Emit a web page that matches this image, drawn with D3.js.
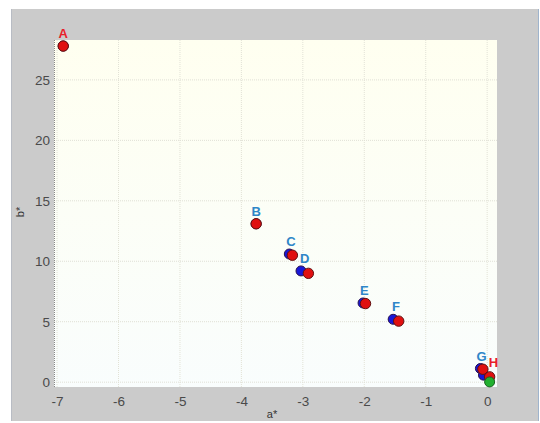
<!DOCTYPE html>
<html><head><meta charset="utf-8">
<script src="https://cdn.jsdelivr.net/npm/d3@7"></script>
<style>body{margin:0;background:#fff}svg{display:block}</style>
</head><body><svg id="c" width="540" height="423"></svg>
<script>
const labels = ["A","B","C","D","E","F","G","H"];
const labelColors = ["#e8202a","#2e86c8","#2e86c8","#2e86c8","#2e86c8","#2e86c8","#2e86c8","#e8202a"];
const blueA = [-6.9,-3.76,-3.22,-3.03,-2.02,-1.53,-0.11,-0.06];
const blueB = [27.8,13.1,10.6,9.2,6.55,5.2,1.13,0.58];
const redA  = [-6.9,-3.76,-3.17,-2.91,-1.98,-1.44,-0.07,0.04];
const redB  = [27.8,13.1,10.5,9.0,6.5,5.05,1.07,0.44];
const greenA = [0.04];
const greenB = [0.02];
const xTicks = [-7,-6,-5,-4,-3,-2,-1,0];
const yTicks = [0,5,10,15,20,25];

const svg = d3.select("#c");
const L=54,R=497,T=40,B=387;
const x = d3.scaleLinear().domain([-7.05,0.16]).range([L,R]);
const y = d3.scaleLinear().domain([-0.4,28.3]).range([B,T]);
const FONT = "Liberation Sans, Arial, sans-serif";

const defs = svg.append("defs");
const g = defs.append("linearGradient").attr("id","bg").attr("x1",0).attr("y1",0).attr("x2",0).attr("y2",1);
g.append("stop").attr("offset","0%").attr("stop-color","#fffff0");
g.append("stop").attr("offset","100%").attr("stop-color","#f9fdfd");

// grey panel
svg.append("rect").attr("x",11).attr("y",9).attr("width",528).attr("height",412).attr("fill","#cbcbcb");
svg.append("line").attr("x1",11.5).attr("x2",11.5).attr("y1",9).attr("y2",421).attr("stroke","#b8bcc4");
svg.append("line").attr("x1",538.5).attr("x2",538.5).attr("y1",9).attr("y2",421).attr("stroke","#9fb4cc");
svg.append("rect").attr("x",L).attr("y",T).attr("width",R-L).attr("height",B-T).attr("fill","url(#bg)");

// grid
svg.append("g").selectAll("line").data(xTicks).join("line")
  .attr("x1",d=>x(d)).attr("x2",d=>x(d)).attr("y1",T).attr("y2",B)
  .attr("stroke","#e2e2d6").attr("stroke-dasharray","1,1");
svg.append("g").selectAll("line").data(yTicks).join("line")
  .attr("x1",L).attr("x2",R).attr("y1",d=>y(d)).attr("y2",d=>y(d))
  .attr("stroke","#e0e0d6").attr("stroke-dasharray","1,1");
svg.append("line").attr("x1",L+0.5).attr("x2",L+0.5).attr("y1",T).attr("y2",B)
  .attr("stroke","#888").attr("stroke-dasharray","1,1");

// axes
const xa = svg.append("g").attr("transform",`translate(0,${B})`)
  .call(d3.axisBottom(x).tickValues(xTicks).tickSize(0).tickPadding(9).tickFormat(d=>String(d)));
const ya = svg.append("g").attr("transform",`translate(${L},0)`)
  .call(d3.axisLeft(y).tickValues(yTicks).tickSize(0).tickPadding(4).tickFormat(d=>String(d)));
[xa,ya].forEach(a=>{a.select(".domain").remove();
  a.selectAll("text").attr("font-family",FONT).attr("font-size",13.5).attr("fill","#4a4a4a");});

svg.append("text").attr("x",272).attr("y",418).attr("text-anchor","middle")
  .attr("font-family",FONT).attr("font-size",11).attr("fill","#333").text("a*");
svg.append("text").attr("transform","translate(24,212) rotate(-90)").attr("text-anchor","middle")
  .attr("font-family",FONT).attr("font-size",11).attr("fill","#333").text("b*");

// points
const pts = svg.append("g");
pts.selectAll(".b").data(blueA).join("circle").attr("class","b")
  .attr("cx",(d)=>x(d)).attr("cy",(d,i)=>y(blueB[i])).attr("r",5)
  .attr("fill","#1818d8").attr("stroke","#2a1050").attr("stroke-width",1);
pts.selectAll(".r").data(redA).join("circle").attr("class","r")
  .attr("cx",(d)=>x(d)).attr("cy",(d,i)=>y(redB[i])).attr("r",5.2)
  .attr("fill","#e01010").attr("stroke","#601010").attr("stroke-width",1);
pts.selectAll(".g").data(greenA).join("circle").attr("class","g")
  .attr("cx",(d)=>x(d)).attr("cy",(d,i)=>y(greenB[i])).attr("r",5)
  .attr("fill","#22b030").attr("stroke","#1a6020").attr("stroke-width",1);

// labels
svg.append("g").selectAll("text").data(labels).join("text")
  .attr("x",(d,i)=>(x(blueA[i])+x(redA[i]))/2 + (d==="H"?7:0))
  .attr("y",(d,i)=>y(Math.max(blueB[i],redB[i])) - 8)
  .attr("text-anchor","middle").attr("font-family",FONT)
  .attr("font-weight","bold").attr("font-size",13).attr("fill",(d,i)=>labelColors[i]).text(d=>d);
</script></body></html>
